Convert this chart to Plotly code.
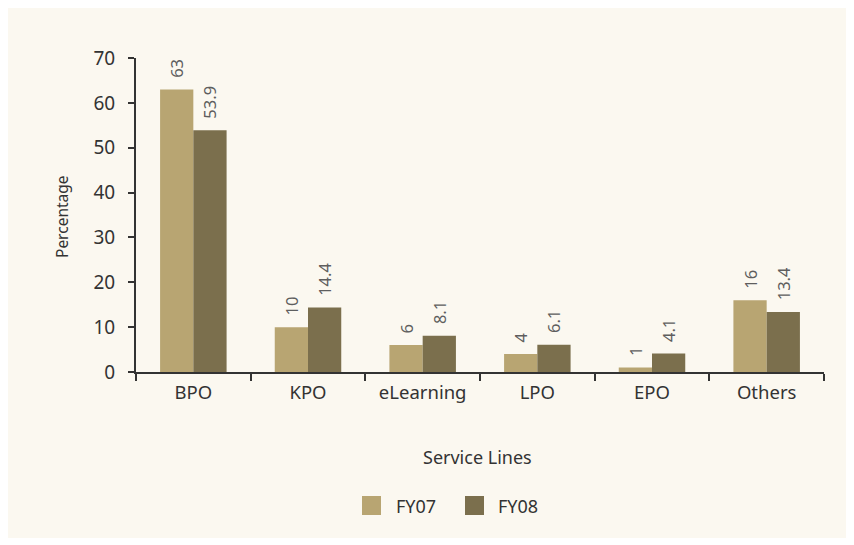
import plotly.graph_objects as go

categories = ["BPO", "KPO", "eLearning", "LPO", "EPO", "Others"]
series_names = ["FY07", "FY08"]
fy07 = [63, 10, 6, 4, 1, 16]
fy08 = [53.9, 14.4, 8.1, 6.1, 4.1, 13.4]
fy07_labels = ["63", "10", "6", "4", "1", "16"]
fy08_labels = ["53.9", "14.4", "8.1", "6.1", "4.1", "13.4"]
y_ticks = [0, 10, 20, 30, 40, 50, 60, 70]

FONT = "Noto Sans"
BG = "#FBF8F0"
C07 = "#B8A572"
C08 = "#7B6F4D"
TXT = "#333333"

# plot area in page pixels (page has 8px body margin)
PL, PR, PT, PB = 136, 824, 58, 372
PW, PH = PR - PL, PB - PT


def px(x):
    return (x - PL) / PW


def py(y):
    return (PB - y) / PH


fig = go.Figure()
for name, vals, labs, col in [(series_names[0], fy07, fy07_labels, C07),
                              (series_names[1], fy08, fy08_labels, C08)]:
    fig.add_trace(go.Bar(
        name=name, x=categories, y=vals, text=labs,
        texttemplate="\u00a0\u00a0%{text}",
        marker=dict(color=col, line=dict(width=0)),
        textposition="outside", textangle=-90, constraintext="none",
        textfont=dict(family=FONT, size=16.5, color="#5e5e5e"),
        cliponaxis=False, showlegend=False,
    ))

shapes = [dict(type="rect", xref="paper", yref="paper",
               x0=px(8), x1=px(848), y0=py(538), y1=py(8),
               fillcolor=BG, line=dict(width=0), layer="below")]
annotations = [
    dict(text="Service Lines", xref="paper", yref="paper",
         x=px(477), y=py(457), showarrow=False,
         xanchor="center", yanchor="middle",
         font=dict(family=FONT, size=18, color=TXT)),
    dict(text="Percentage", xref="paper", yref="paper",
         x=px(62), y=py(217), showarrow=False,
         textangle=-90, xanchor="center", yanchor="middle",
         font=dict(family=FONT, size=15.5, color=TXT)),
]
# manual legend (large square swatches)
for name, col, sq_x, tx_x in [(series_names[0], C07, 362, 394), (series_names[1], C08, 465, 496)]:
    shapes.append(dict(type="rect", xref="paper", yref="paper",
                       x0=px(sq_x), x1=px(sq_x + 19), y0=py(515), y1=py(496),
                       fillcolor=col, line=dict(width=0)))
    annotations.append(dict(text=name, xref="paper", yref="paper",
                            x=px(tx_x), y=py(506), showarrow=False,
                            xanchor="left", yanchor="middle",
                            font=dict(family=FONT, size=18, color=TXT)))

fig.update_layout(
    width=854, height=545,
    margin=dict(l=PL - 8, r=854 - (PR - 8), t=PT - 8, b=545 - (PB - 8)),
    paper_bgcolor="white", plot_bgcolor=BG,
    barmode="group", bargap=0.42, bargroupgap=0,
    font=dict(family=FONT, color=TXT),
    showlegend=False,
    shapes=shapes, annotations=annotations,
)
fig.update_xaxes(
    showline=True, linecolor=TXT, linewidth=2,
    ticks="outside", tickson="boundaries", ticklen=7, tickcolor=TXT, tickwidth=2,
    tickfont=dict(family=FONT, size=18.5, color=TXT),
    ticklabelstandoff=3,
    showgrid=False, zeroline=False,
)
fig.update_yaxes(
    range=[0, 70], tickvals=y_ticks,
    showline=True, linecolor=TXT, linewidth=2,
    ticks="outside", ticklen=6, tickcolor=TXT, tickwidth=2,
    tickfont=dict(family=FONT, size=19, color=TXT),
    ticklabelstandoff=9,
    showgrid=False, zeroline=False,
)

fig.write_html("out.html")
